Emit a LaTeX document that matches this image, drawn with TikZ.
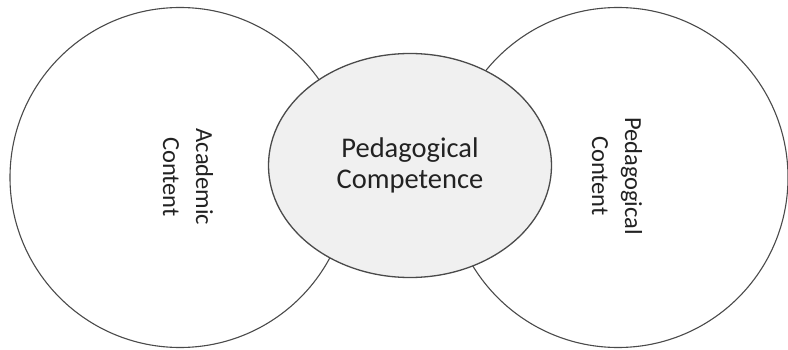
\documentclass[tikz,border=0pt]{standalone}
\usepackage{fontspec}
\setmainfont{Carlito}
\usetikzlibrary{shapes.geometric}
\definecolor{rimgray}{HTML}{4a4a4a}
\definecolor{corefill}{HTML}{f0f0f0}
\definecolor{inkgray}{HTML}{222222}

\begin{document}
\begin{tikzpicture}[
            x=1pt, y=-1pt,
            area/.style={circle, draw=rimgray, fill=white, line width=1.1pt,
                         minimum size=340pt, inner sep=0pt},
            core/.style={ellipse, draw=rimgray, fill=corefill, line width=1.3pt,
                         minimum width=283pt, minimum height=224pt, inner sep=0pt},
            sidelabel/.style={rotate=-90, align=center, text=inkgray,
                              font=\fontsize{24.5}{33}\selectfont}
            ]
        \useasboundingbox (0,0) rectangle (788,350);

        % the two content areas, then the competence in front of them
        \node[area] (academic) at (180,177.5) {};
        \node[area] (pedcontent) at (618,177.5) {};
        \node[core, align=center, text=inkgray,
              font=\fontsize{28.5}{31}\selectfont] (competence) at (410,165.5)
              {Pedagogical\\Competence};

        \node[sidelabel] (acadlabel) at (188,177) {Academic\\Content};
        \node[sidelabel] (pedlabel) at (617,176) {Pedagogical\\Content};
    \end{tikzpicture}
\end{document}
